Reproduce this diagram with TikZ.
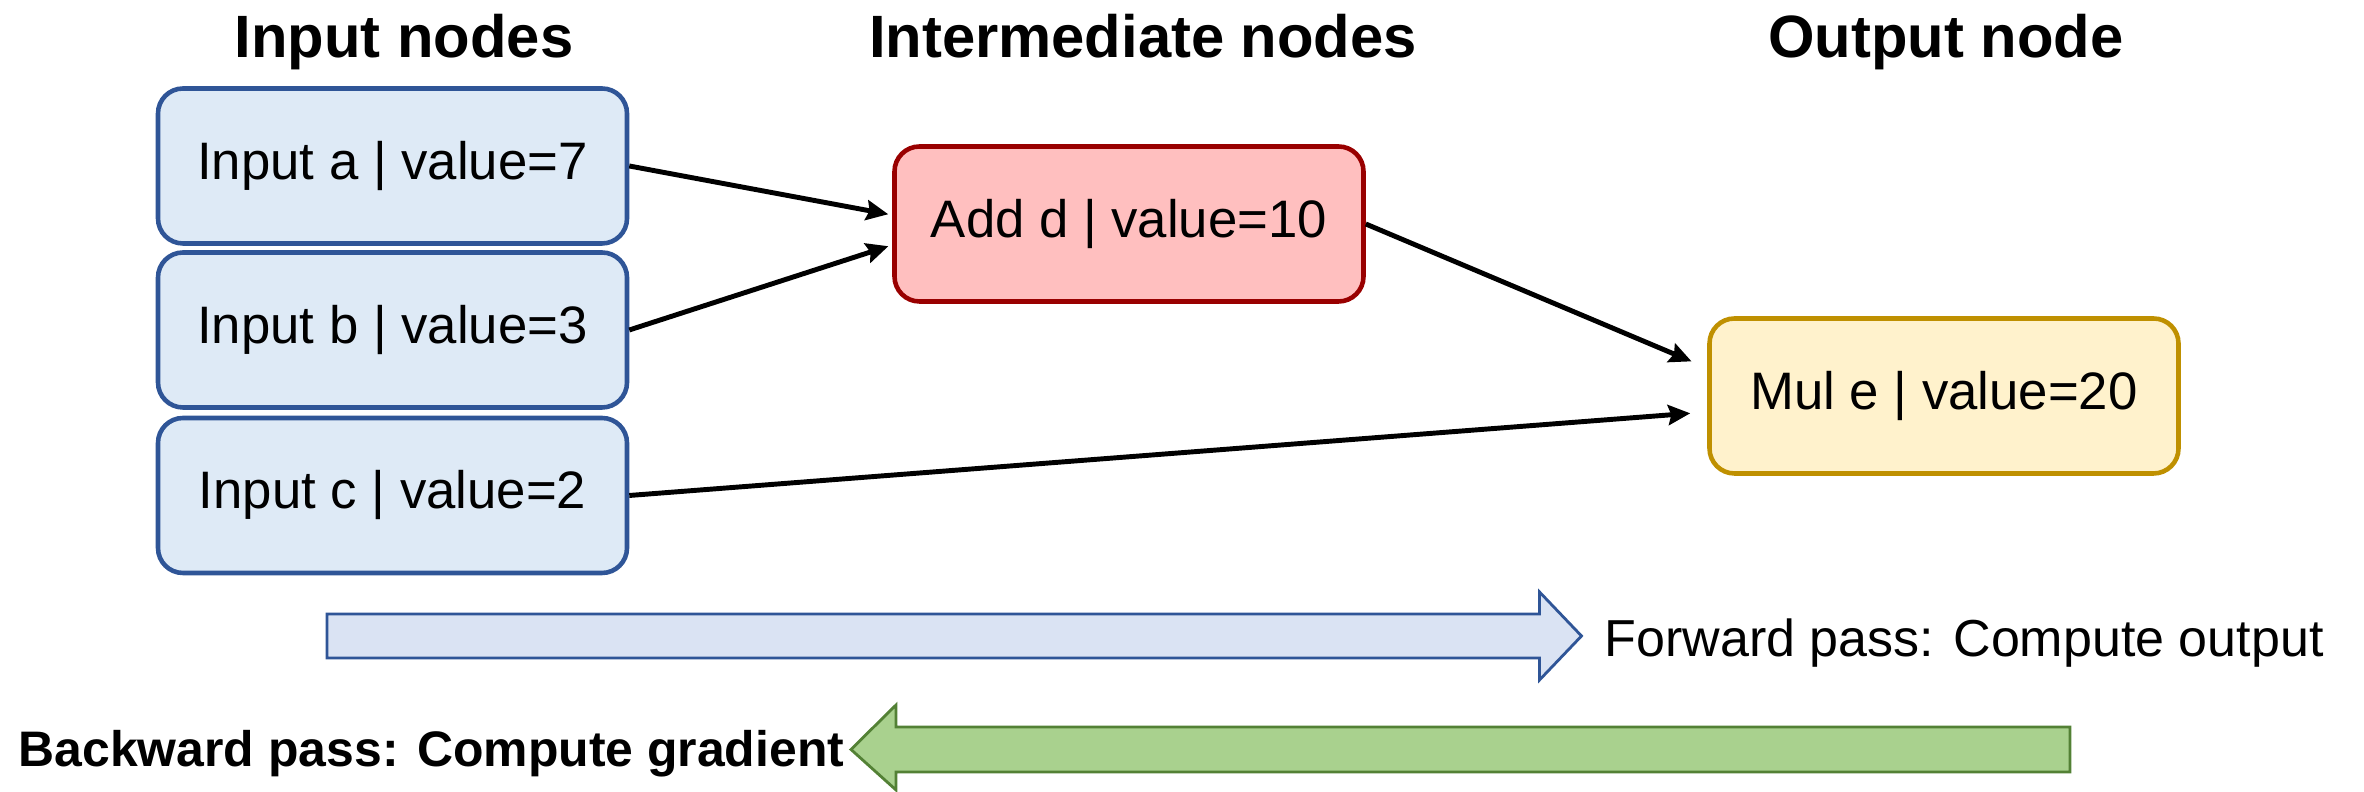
\documentclass[tikz,border=0pt]{standalone}
\usepackage{fontspec}
\setmainfont{Liberation Sans}
\usetikzlibrary{arrows.meta}
\definecolor{inpfill}{HTML}{DEEAF6}
\definecolor{inpline}{HTML}{2F5597}
\definecolor{addfill}{HTML}{FFBFBF}
\definecolor{addline}{HTML}{990000}
\definecolor{mulfill}{HTML}{FFF2CC}
\definecolor{mulline}{HTML}{BF9000}
\definecolor{fwdfill}{HTML}{DAE3F3}
\definecolor{bwdfill}{HTML}{A9D18E}
\definecolor{bwdline}{HTML}{538135}

\begin{document}
\begin{tikzpicture}[x=1cm,y=1cm,
  box/.style={draw,rounded corners=0.25cm,line width=1.3pt,minimum width=4.69cm,minimum height=1.55cm,font=\fontsize{15}{18}\selectfont},
  head/.style={anchor=base,font=\fontsize{17}{20}\selectfont\bfseries},
  link/.style={line width=1.4pt,-{Stealth[length=0.22cm,width=0.2cm,inset=0.03cm]}}]
\useasboundingbox (0,0) rectangle (23.64,7.92);
\node[head] (hin) at (4.04,7.34) {Input nodes};
\node[head] (hmid) at (11.43,7.34) {Intermediate nodes};
\node[head] (hout) at (19.46,7.34) {Output node};
\node[box,fill=inpfill,draw=inpline] (a) at (3.925,6.260) {Input a | value=7};
\node[box,fill=inpfill,draw=inpline] (b) at (3.925,4.620) {Input b | value=3};
\node[box,fill=inpfill,draw=inpline] (c) at (3.925,2.965) {Input c | value=2};
\node[box,fill=addfill,draw=addline] (d) at (11.29,5.680) {Add d | value=10};
\node[box,fill=mulfill,draw=mulline] (e) at (19.44,3.960) {Mul e | value=20};
\draw[link,shorten >=0.04cm] (a.east) -- ([yshift=0.09cm]d.west);
\draw[link,shorten >=0.04cm] (b.east) -- ([yshift=-0.21cm]d.west);
\draw[link,shorten >=0.17cm] (d.east) -- ([yshift=0.28cm]e.west);
\draw[link,shorten >=0.17cm] (c.east) -- ([yshift=-0.16cm]e.west);
\draw[line width=0.8pt,draw=inpline,fill=fwdfill] (3.27,1.34) -- (15.395,1.34) -- (15.395,1.12) -- (15.815,1.56) -- (15.395,2.00) -- (15.395,1.78) -- (3.27,1.78) -- cycle;
\node[anchor=base west,inner sep=0,font=\fontsize{14.8}{17}\selectfont] (fwd) at (16.04,1.353) {Forward pass: Compute output};
\draw[line width=0.8pt,draw=bwdline,fill=bwdfill] (20.70,0.20) -- (8.96,0.20) -- (8.96,0.02) -- (8.51,0.425) -- (8.96,0.87) -- (8.96,0.65) -- (20.70,0.65) -- cycle;
\node[anchor=base west,inner sep=0,font=\fontsize{14.2}{17}\selectfont\bfseries] (bwd) at (0.18,0.25) {Backward pass: Compute gradient};
\end{tikzpicture}
\end{document}
